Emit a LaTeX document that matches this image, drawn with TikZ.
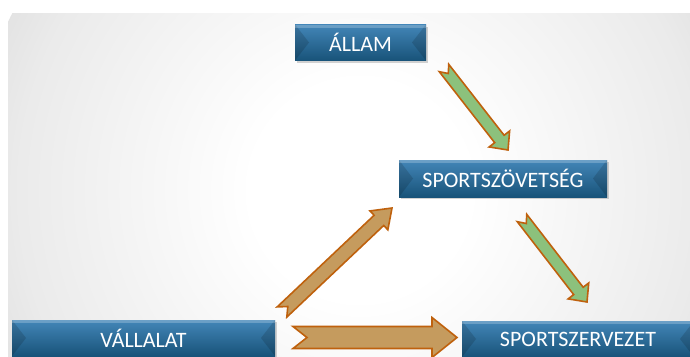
\documentclass[tikz,border=0pt]{standalone}
\usepackage{fontspec}
\newfontfamily\boxfont{Carlito}
\usetikzlibrary{calc,shadows}

\definecolor{boxtop}{HTML}{4386B8}
\definecolor{boxbot}{HTML}{185379}
\definecolor{arrowgreen}{HTML}{8CC17C}
\definecolor{arrowtan}{HTML}{C59B5E}
\definecolor{arrowedge}{HTML}{BF610D}

\pgfdeclareradialshading{bgshade}{\pgfpoint{0bp}{0bp}}{color(0bp)=(white); color(7bp)=(white); color(22bp)=(gray!16); color(40bp)=(gray!50); color(50bp)=(gray!62)}

% notched block arrow: style, tail, tip, half shaft, half head, head length, notch
\newcommand{\blockarrow}[7]{%
  \coordinate (#2-base) at ($(#3)!#6!(#2)$);
  \draw[#1] ($(#2)!#4!90:(#3)$) -- ($(#2-base)!#4!90:(#3)$) -- ($(#2-base)!#5!90:(#3)$)
    -- (#3) -- ($(#2-base)!#5!-90:(#3)$) -- ($(#2-base)!#4!-90:(#3)$)
    -- ($(#2)!#4!-90:(#3)$) -- ($(#2)!#7!(#3)$) -- cycle;}

\tikzset{
  box/.style={rectangle, minimum height=36pt, inner sep=0pt, text=white,
    font=\boxfont\fontsize{22}{26}\selectfont,
    top color=boxtop, bottom color=boxbot,
    drop shadow={opacity=.35, shadow xshift=1.5pt, shadow yshift=-2pt},
    path picture={
      \fill[black,opacity=.14] (path picture bounding box.north west) -- ([xshift=14pt]path picture bounding box.west) -- (path picture bounding box.south west) -- cycle;
      \fill[black,opacity=.14] (path picture bounding box.north east) -- ([xshift=-14pt]path picture bounding box.east) -- (path picture bounding box.south east) -- cycle;
      \fill[white,opacity=.22] (path picture bounding box.north west) rectangle ([yshift=-3pt]path picture bounding box.north east);
    }},
  greenarr/.style={fill=arrowgreen, draw=arrowedge, line width=1.6pt},
  tanarr/.style={fill=arrowtan, draw=arrowedge, line width=1.6pt}
}

\begin{document}
\begin{tikzpicture}[x=1pt,y=-1pt]
    \useasboundingbox (0,0) rectangle (690,356);
    \clip (0,0) rectangle (690,356);
    \fill[white] (0,0) rectangle (690,356);
    \begin{scope}
        \clip (8,13) rectangle (690,356);
        \shade[shading=bgshade] (360,190) circle (390);
    \end{scope}

    \node[box, minimum width=131pt] (A) at (360.5, 42.5) {ÁLLAM};
    \node[box, minimum width=208pt, minimum height=37pt] (B) at (503, 178.5) {SPORTSZÖVETSÉG};
    \node[box, minimum width=263pt] (C) at (143.5, 338) {VÁLLALAT};
    \node[box, minimum width=232pt] (D) at (578, 339) {SPORTSZERVEZET};

    \coordinate (E) at (444, 68);
    \coordinate (F) at (508, 150);
    \coordinate (G) at (522, 218);
    \coordinate (H) at (587, 302);
    \coordinate (I) at (282, 312);
    \coordinate (J) at (392, 208);
    \coordinate (K) at (293, 337.5);
    \coordinate (L) at (457, 337.5);

    \blockarrow{greenarr}{E}{F}{6pt}{13pt}{14pt}{7pt}
    \blockarrow{greenarr}{G}{H}{6pt}{13pt}{14pt}{7pt}
    \blockarrow{tanarr}{I}{J}{7pt}{13pt}{18pt}{8pt}
    \blockarrow{tanarr}{K}{L}{11pt}{20pt}{25pt}{14pt}
\end{tikzpicture}
\end{document}
